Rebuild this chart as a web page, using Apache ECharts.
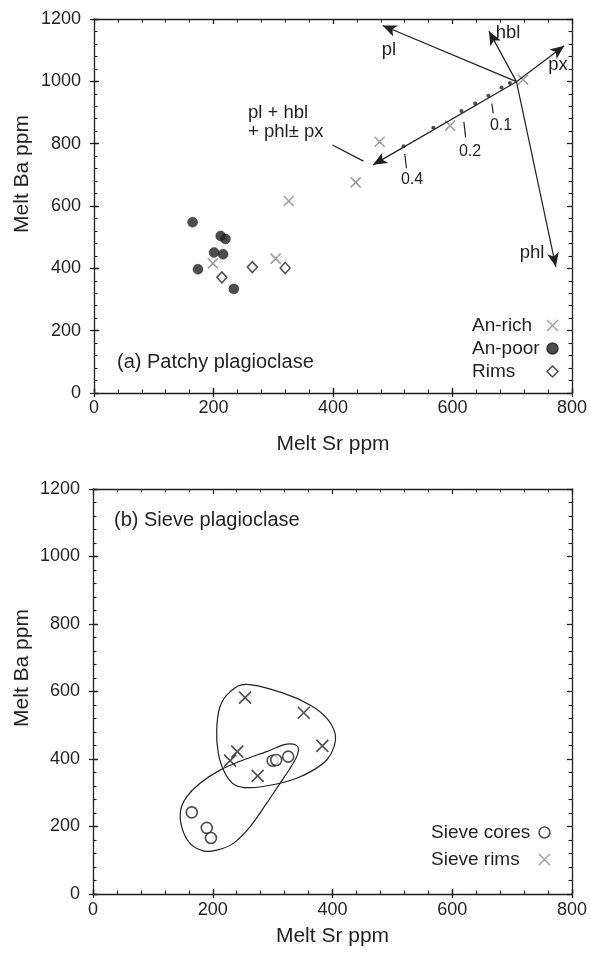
<!DOCTYPE html>
<html><head><meta charset="utf-8">
<script src="https://cdn.jsdelivr.net/npm/echarts@6/dist/echarts.min.js"></script>
<style>html,body{margin:0;padding:0;background:#fff}#c{width:591px;height:957px}</style>
</head><body><div id="c"></div>
<script>
// ---------- data ----------
const xTicks = [0, 200, 400, 600, 800];
const yTicks = [0, 200, 400, 600, 800, 1000, 1200];
const xTitle = 'Melt Sr ppm';
const yTitle = 'Melt Ba ppm';
const panelA = '(a) Patchy plagioclase';
const panelB = '(b) Sieve plagioclase';

// (a) patchy plagioclase
const anRich = [[199,416],[304,431],[326,616],[438,676],[478,806],[596,858],[718,1005]];
const anPoor = [[165,548],[174,397],[212,504],[220,494],[201,451],[216,445],[234,334]];
const rims = [[214,371],[265,404],[320,401]];

// model vectors (a)
const origin = [707, 999];
const bulkEnd = [467, 732];
const plEnd = [483, 1179];
const hblEnd = [661, 1161];
const pxEnd = [787, 1114];
const phlEnd = [773, 405];
const fractionDots = [[696,995],[682,980],[660,954],[638,929],[615,905],[568,851],[518,792]];
const fractionTicks = [[[666,929],[668,897]], [[619,870],[622,820]], [[520,767],[523,721]]];
const leader = [[399,796],[451,744]];

// (b) sieve plagioclase
const sieveCores = [[165,242],[190,196],[197,166],[300,395],[306,397],[326,407]];
const sieveRims = [[254,582],[352,537],[383,439],[241,422],[229,395],[275,350]];
const rimsOutline = [[256.7,621],[317.8,595],[362.4,560],[390.3,521],[404.2,476],[402.5,436],[390.3,397],[367.9,367],[340.2,343],[306.8,326],[262.2,315],[237.2,323],[220.5,358],[209.3,417],[206.6,486],[212.1,555],[228.8,599]];
const coresOutline = [[334.5,444],[342.9,432],[340.2,407],[329,372],[312.3,328],[290.1,269],[262.2,199],[234.3,150],[206.6,130],[184.2,128],[162,150],[148.1,199],[146.5,249],[156.5,288],[178.7,328],[212.1,367],[251,397],[290.1,422],[317.8,442]];

// ---------- style ----------
const FONT = "'Liberation Sans', Arial, Helvetica, sans-serif";
const INK = '#231f20';
const GRAY = '#8a8a8a';
const CROSS = 'path://M0,0L10,10M10,0L0,10';
const xMin = xTicks[0], xMax = xTicks[xTicks.length-1], xInt = xTicks[1]-xTicks[0];
const yMin = yTicks[0], yMax = yTicks[yTicks.length-1], yInt = yTicks[1]-yTicks[0];
const plain = v => String(v);

const grids = [
  {left:94, top:19, width:478, height:374},
  {left:94, top:19, width:478, height:374},
  {left:93, top:489, width:479, height:405},
  {left:93, top:489, width:479, height:405}
];

function mainX(g, pos, labels, nameGap, margin) {
  return {type:'value', gridIndex:g, position:pos, min:xMin, max:xMax, interval:xInt,
    axisLine:{show:true, onZero:false, lineStyle:{color:INK, width:1.3}},
    axisTick:{show:true, inside:true, length:5, lineStyle:{color:INK, width:1.3}},
    minorTick:{show:true, splitNumber:5, length:3.5, lineStyle:{color:INK, width:1.1}},
    splitLine:{show:false}, minorSplitLine:{show:false},
    axisLabel:{show:labels, color:INK, fontSize:18, fontFamily:FONT, margin:margin, formatter:plain},
    name: labels ? xTitle : '', nameLocation:'middle', nameGap:nameGap,
    nameTextStyle:{color:INK, fontSize:21, fontFamily:FONT}};
}
function mainY(g, pos, labels, margin) {
  return {type:'value', gridIndex:g, position:pos, min:yMin, max:yMax, interval:yInt,
    axisLine:{show:true, onZero:false, lineStyle:{color:INK, width:1.3}},
    axisTick:{show:true, inside:true, length:5, lineStyle:{color:INK, width:1.3}},
    minorTick:{show:true, splitNumber:5, length:3.5, lineStyle:{color:INK, width:1.1}},
    splitLine:{show:false}, minorSplitLine:{show:false},
    axisLabel:{show:labels, color:INK, fontSize:18, fontFamily:FONT, margin:margin, formatter:plain}};
}
function outerX(g, pos) {
  return {type:'value', gridIndex:g, position:pos, min:xMin, max:xMax, interval:xInt,
    axisLine:{show:false}, axisTick:{show:true, inside:false, length:4, lineStyle:{color:INK, width:1.3}},
    axisLabel:{show:false}, splitLine:{show:false}};
}
function outerY(g, pos) {
  return {type:'value', gridIndex:g, position:pos, min:yMin, max:yMax, interval:yInt,
    axisLine:{show:false}, axisTick:{show:true, inside:false, length:4, lineStyle:{color:INK, width:1.3}},
    axisLabel:{show:false}, splitLine:{show:false}};
}

const xAxis = [
  mainX(0,'bottom',true,41,6), mainX(0,'top',false,0,0),
  outerX(1,'bottom'), outerX(1,'top'),
  mainX(2,'bottom',true,32,7), mainX(2,'top',false,0,0),
  outerX(3,'bottom'), outerX(3,'top')
];
const yAxis = [
  mainY(0,'left',true,13), mainY(0,'right',false,0),
  outerY(1,'left'), outerY(1,'right'),
  mainY(2,'left',true,13), mainY(2,'right',false,0),
  outerY(3,'left'), outerY(3,'right')
];

function closedSpline(pts) {
  const n = pts.length;
  let d = 'M' + pts[0][0] + ' ' + pts[0][1];
  for (let i = 0; i < n; i++) {
    const p0 = pts[(i-1+n)%n], p1 = pts[i], p2 = pts[(i+1)%n], p3 = pts[(i+2)%n];
    const c1x = p1[0] + (p2[0]-p0[0])/6, c1y = p1[1] + (p2[1]-p0[1])/6;
    const c2x = p2[0] - (p3[0]-p1[0])/6, c2y = p2[1] - (p3[1]-p1[1])/6;
    d += ' C' + c1x + ' ' + c1y + ' ' + c2x + ' ' + c2y + ' ' + p2[0] + ' ' + p2[1];
  }
  return d + ' Z';
}
const outlines = [rimsOutline, coresOutline];

const arrowSize = [9, 14];
function arrow(from, to, curv) {
  return [{coord: from, lineStyle:{curveness: curv}}, {coord: to, symbol:'arrow', symbolSize: arrowSize}];
}
function seg(a, b) { return [{coord:a}, {coord:b}]; }

const series = [
  {type:'scatter', name:'model', xAxisIndex:0, yAxisIndex:0, data:fractionDots, symbol:'circle', symbolSize:4,
   itemStyle:{color:INK}, silent:true, z:3,
   markLine:{silent:true, animation:false, symbol:['none','none'], label:{show:false},
     lineStyle:{color:INK, width:1.2, type:'solid'},
     emphasis:{disabled:true},
     data:[
       arrow(origin, bulkEnd, 0),
       arrow(origin, plEnd, 0.12),
       arrow(origin, hblEnd, -0.08),
       arrow(origin, pxEnd, 0),
       arrow(origin, phlEnd, -0.08),
       seg(fractionTicks[0][0], fractionTicks[0][1]),
       seg(fractionTicks[1][0], fractionTicks[1][1]),
       seg(fractionTicks[2][0], fractionTicks[2][1]),
       seg(leader[0], leader[1])
     ]}},
  {type:'scatter', name:'An-rich', xAxisIndex:0, yAxisIndex:0, data:anRich, symbol:CROSS, symbolSize:10,
   itemStyle:{color:'none', borderColor:GRAY, borderWidth:1.6}, z:4},
  {type:'scatter', name:'An-poor', xAxisIndex:0, yAxisIndex:0, data:anPoor, symbol:'circle', symbolSize:10,
   itemStyle:{color:INK, borderColor:INK, borderWidth:0.5}, z:4},
  {type:'scatter', name:'Rims', xAxisIndex:0, yAxisIndex:0, data:rims, symbol:'diamond', symbolSize:[10,11],
   itemStyle:{color:'#fff', borderColor:INK, borderWidth:1.5}, z:4},
  {type:'custom', name:'outlines', xAxisIndex:4, yAxisIndex:4, data:[[0,0],[0,0]], silent:true, z:2,
   renderItem: function (params, api) {
     const pts = outlines[params.dataIndex].map(p => api.coord(p));
     return {type:'path', shape:{pathData: closedSpline(pts)}, style:{fill:'none', stroke:INK, lineWidth:1.2}};
   }},
  {type:'scatter', name:'Sieve cores', xAxisIndex:4, yAxisIndex:4, data:sieveCores, symbol:'circle', symbolSize:11,
   itemStyle:{color:'#fff', borderColor:INK, borderWidth:1.6}, z:4},
  {type:'scatter', name:'Sieve rims', xAxisIndex:4, yAxisIndex:4, data:sieveRims, symbol:CROSS, symbolSize:12,
   itemStyle:{color:'none', borderColor:INK, borderWidth:1.6}, z:4}
];

const txt = (text, x, y, size, align, extra) => Object.assign({type:'text', x:x, y:y, silent:true,
  style:{text:text, fill:INK, font: size + 'px ' + FONT, align:align||'left', verticalAlign:'middle',
         textAlign:align||'left', textVerticalAlign:'middle'}}, extra||{});

const graphic = [
  txt(yTitle, 22, 174, 21, 'center', {rotation:Math.PI/2}),
  txt(yTitle, 22, 668, 21, 'center', {rotation:Math.PI/2}),
  txt(panelA, 117, 362, 20),
  txt(panelB, 114, 520, 20),
  txt('pl + hbl', 248, 113, 18.5),
  txt('+ phl\u00b1 px', 248, 132, 18.5),
  txt('pl', 389, 50, 18.5, 'center'),
  txt('hbl', 508, 33, 18.5, 'center'),
  txt('px', 558, 65, 18.5, 'center'),
  txt('phl', 532, 253, 18.5, 'center'),
  txt('0.1', 501, 126, 16, 'center'),
  txt('0.2', 470, 152, 16, 'center'),
  txt('0.4', 412, 180, 16, 'center')
];

function legendTextStyle(w) {
  return {color:INK, fontSize:19, fontFamily:FONT, lineHeight:19,
    rich:{t:{width:w, align:'left', color:INK, fontSize:19, fontFamily:FONT, lineHeight:19}}};
}
const option = {
  animation:false,
  backgroundColor:'#fff',
  grid:grids, xAxis:xAxis, yAxis:yAxis, series:series, graphic:graphic,
  legend:[
    {data:['An-rich','An-poor','Rims'], orient:'vertical', left:472, top:316, align:'right',
     itemWidth:11, itemHeight:11, itemGap:4, selectedMode:false, padding:0,
     itemStyle:{borderWidth:1.5}, formatter:'{t|{name}}',
     textStyle:legendTextStyle(70)},
    {data:['Sieve cores', {name:'Sieve rims', itemStyle:{borderColor:GRAY}}], orient:'vertical', left:431, top:823, align:'right',
     itemWidth:11, itemHeight:11, itemGap:8, selectedMode:false, padding:0,
     itemStyle:{borderWidth:1.5}, formatter:'{t|{name}}',
     textStyle:legendTextStyle(103)}
  ]
};
const chart = echarts.init(document.getElementById('c'), null, {renderer:'canvas'});
chart.setOption(option);
</script></body></html>
